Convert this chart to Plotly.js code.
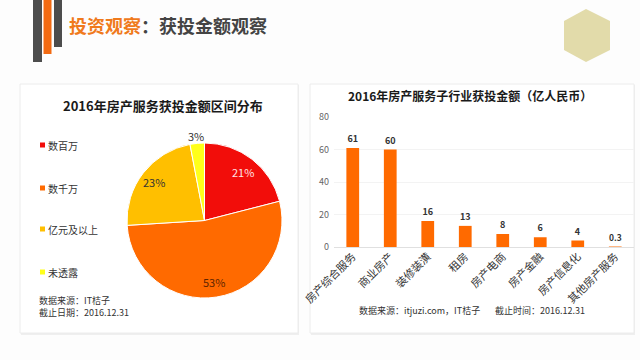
<!DOCTYPE html>
<html>
<head>
<meta charset="utf-8">
<script src="https://cdn.plot.ly/plotly-3.0.1.min.js"></script>
<style>
html,body{margin:0;padding:0;background:#fdfdfd;}
#chart{width:640px;height:360px;}
</style>
</head>
<body>
<div id="chart"></div>
<script>
// ---- data ----
const pieLabels = ['数百万', '数千万', '亿元及以上', '未透露'];
const pieValues = [21, 53, 23, 3];
const pieColors = ['#f20d0a', '#ff6a00', '#ffbf00', '#ffff1a'];
const pieTextColors = ['#ffe3e3', '#5e2500', '#333333', '#333333'];

const barCategories = ['房产综合服务', '商业房产', '装修装潢', '租房', '房产电商', '房产金融', '房产信息化', '其他房产服务'];
const barValues = [61, 60, 16, 13, 8, 6, 4, 0.3];
const yTicks = [0, 20, 40, 60, 80];

const W = 640, H = 360;
const px = x => x / W;
const py = y => 1 - y / H;
const FONT = '"Noto Sans CJK SC", "Noto Sans", sans-serif';

const shapes = [];
const annotations = [];

// cards (shadow + body)
function card(x0, y0, x1, y1) {
  shapes.push({type:'rect', xref:'paper', yref:'paper', x0:px(x0+1), x1:px(x1+1), y0:py(y1+2), y1:py(y0+1),
    fillcolor:'#efefef', line:{width:0}, layer:'below'});
  shapes.push({type:'rect', xref:'paper', yref:'paper', x0:px(x0), x1:px(x1), y0:py(y1), y1:py(y0),
    fillcolor:'#ffffff', line:{color:'#ececec', width:1}, layer:'below'});
}
card(20, 84, 298, 333);
card(310, 84, 634, 333);

// header bars
shapes.push({type:'rect', xref:'paper', yref:'paper', x0:px(33), x1:px(42), y0:py(62), y1:py(0), fillcolor:'#4d4d4d', line:{width:0}});
shapes.push({type:'rect', xref:'paper', yref:'paper', x0:px(43.5), x1:px(51.5), y0:py(54), y1:py(0), fillcolor:'#f26a12', line:{width:0}});
shapes.push({type:'rect', xref:'paper', yref:'paper', x0:px(54), x1:px(62), y0:py(47), y1:py(0), fillcolor:'#4d4d4d', line:{width:0}});

// hexagon decoration
const hex = [[586,9],[610,21],[610,50],[586,62],[564,50],[564,21]];
shapes.push({type:'path', xref:'paper', yref:'paper',
  path:'M' + hex.map(p => px(p[0]) + ',' + py(p[1])).join(' L') + ' Z',
  fillcolor:'#e2dbaa', line:{width:0}});

// header title
annotations.push({xref:'paper', yref:'paper', x:px(67), y:py(25), xanchor:'left', yanchor:'middle', showarrow:false,
  text:'<b><span style="color:#f07a1c">投资观察</span><span style="color:#444444">：获投金额观察</span></b>',
  font:{size:18, family:FONT}});

// pie title
annotations.push({xref:'paper', yref:'paper', x:px(163), y:py(105), xanchor:'center', yanchor:'middle', showarrow:false,
  text:'<b>2016年房产服务获投金额区间分布</b>', font:{size:13, color:'#1a1a1a', family:FONT}});

// bar title
annotations.push({xref:'paper', yref:'paper', x:px(470), y:py(96), xanchor:'center', yanchor:'middle', showarrow:false,
  text:'<b>2016年房产服务子行业获投金额（亿人民币）</b>', font:{size:12, color:'#1a1a1a', family:FONT}});

// custom pie legend
const legendY = [145, 188, 229, 272];
pieLabels.forEach((lab, i) => {
  shapes.push({type:'rect', xref:'paper', yref:'paper', x0:px(40), x1:px(45), y0:py(legendY[i]+2.5), y1:py(legendY[i]-2.5),
    fillcolor:pieColors[i], line:{width:0}});
  annotations.push({xref:'paper', yref:'paper', x:px(46), y:py(legendY[i]), xanchor:'left', yanchor:'middle', showarrow:false,
    text:lab, font:{size:10, color:'#333333', family:FONT}});
});

// pie percentage labels placed along each slice's mid-angle (computed from the data)
const pieCx = 204.5, pieCy = 220.5, pieR = 77.5;
const labelRadius = [0.8, 0.8, 0.82, 1.1];
const total = pieValues.reduce((a, b) => a + b, 0);
let cum = 0;
pieValues.forEach((v, i) => {
  const mid = (cum + v / 2) / total * 2 * Math.PI;
  cum += v;
  const r = pieR * labelRadius[i];
  annotations.push({xref:'paper', yref:'paper',
    x:px(pieCx + r * Math.sin(mid)), y:py(pieCy - r * Math.cos(mid)),
    xanchor:'center', yanchor:'middle', showarrow:false,
    text:v + '%', font:{size:11, color:pieTextColors[i], family:FONT}});
});

// sources
annotations.push({xref:'paper', yref:'paper', x:px(37), y:py(300), xanchor:'left', yanchor:'middle', showarrow:false,
  text:'数据来源：IT桔子', font:{size:9, color:'#333333', family:FONT}});
annotations.push({xref:'paper', yref:'paper', x:px(37), y:py(312), xanchor:'left', yanchor:'middle', showarrow:false,
  text:'截止日期：2016.12.31', font:{size:9, color:'#333333', family:FONT}});
annotations.push({xref:'paper', yref:'paper', x:px(357), y:py(310), xanchor:'left', yanchor:'middle', showarrow:false,
  text:'数据来源：itjuzi.com，IT桔子', font:{size:9, color:'#333333', family:FONT}});
annotations.push({xref:'paper', yref:'paper', x:px(493), y:py(310), xanchor:'left', yanchor:'middle', showarrow:false,
  text:'截止时间：2016.12.31', font:{size:9, color:'#333333', family:FONT}});

const pieTrace = {
  type:'pie',
  labels:pieLabels,
  values:pieValues,
  sort:false,
  direction:'clockwise',
  rotation:0,
  marker:{colors:pieColors, line:{color:'#ffffff', width:1}},
  textinfo:'none',
  domain:{x:[px(127), px(282)], y:[py(298), py(143)]},
  showlegend:false,
  hoverinfo:'none'
};

const barTrace = {
  type:'bar',
  x:barCategories,
  y:barValues,
  marker:{color:'#ff6a00'},
  texttemplate:'<b>%{y}</b>',
  textposition:'outside',
  textfont:{size:9, color:'#333333', family:FONT},
  cliponaxis:false,
  xaxis:'x', yaxis:'y',
  showlegend:false,
  hoverinfo:'none'
};

const layout = {
  width:W, height:H,
  margin:{l:0, r:0, t:0, b:0},
  paper_bgcolor:'#fdfdfd',
  plot_bgcolor:'rgba(0,0,0,0)',
  font:{family:FONT},
  showlegend:false,
  bargap:0.66,
  xaxis:{
    domain:[px(334), px(634)],
    anchor:'y',
    tickangle:-45,
    tickfont:{size:11, color:'#333333', family:FONT},
    showgrid:false, showline:false, zeroline:false,
    ticks:'', fixedrange:true
  },
  yaxis:{
    domain:[py(247), py(117)],
    anchor:'x',
    range:[0, 80],
    tickvals:yTicks,
    ticktext:yTicks.map(String),
    tickfont:{size:9, color:'#666666', family:FONT},
    showgrid:true, gridcolor:'#f3f3f3',
    zeroline:true, zerolinecolor:'#e0e0e0', zerolinewidth:1,
    showline:false, ticks:'', ticklabelstandoff:4, fixedrange:true
  },
  shapes:shapes,
  annotations:annotations
};

Plotly.newPlot('chart', [pieTrace, barTrace], layout, {staticPlot:true, displayModeBar:false});
</script>
</body>
</html>
